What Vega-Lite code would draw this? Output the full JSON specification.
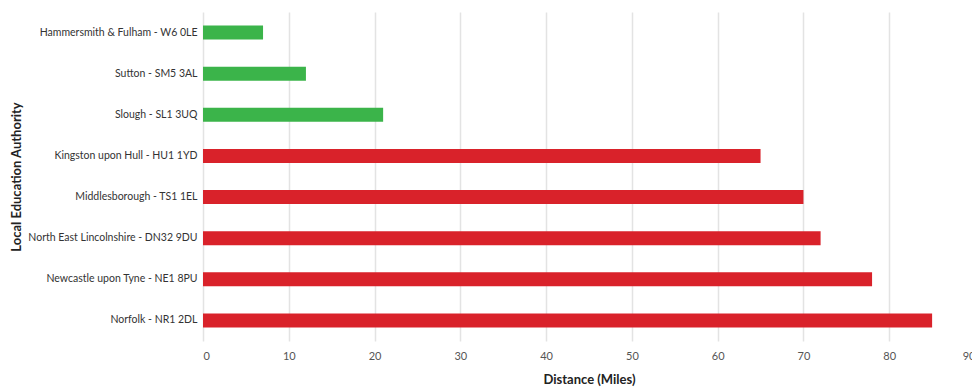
{
  "$schema": "https://vega.github.io/schema/vega-lite/v6.json",
  "autosize": {"type": "none"},
  "padding": {"left": 203, "top": 12, "right": 0, "bottom": 48},
  "width": 772,
  "height": 329,
  "background": "white",
  "config": {
    "view": {"stroke": null},
    "font": "Lato"
  },
  "data": {
    "values": [
      {"authority": "Hammersmith & Fulham - W6 0LE", "miles": 7, "group": "near"},
      {"authority": "Sutton - SM5 3AL", "miles": 12, "group": "near"},
      {"authority": "Slough - SL1 3UQ", "miles": 21, "group": "near"},
      {"authority": "Kingston upon Hull - HU1 1YD", "miles": 65, "group": "far"},
      {"authority": "Middlesborough - TS1 1EL", "miles": 70, "group": "far"},
      {"authority": "North East Lincolnshire - DN32 9DU", "miles": 72, "group": "far"},
      {"authority": "Newcastle upon Tyne - NE1 8PU", "miles": 78, "group": "far"},
      {"authority": "Norfolk - NR1 2DL", "miles": 85, "group": "far"}
    ]
  },
  "mark": {"type": "bar"},
  "encoding": {
    "y": {
      "field": "authority",
      "type": "nominal",
      "sort": null,
      "scale": {"paddingInner": 0.66, "paddingOuter": 0.33},
      "axis": {
        "title": "Local Education Authority",
        "titleFont": "Lato",
        "titleFontSize": 13,
        "titleFontWeight": "bold",
        "titleColor": "#222",
        "titleX": -180,
        "labelFontSize": 10.5,
        "labelColor": "#333",
        "labelPadding": 6,
        "ticks": false,
        "domain": false,
        "labelLimit": 250
      }
    },
    "x": {
      "field": "miles",
      "type": "quantitative",
      "scale": {"domain": [0, 90], "nice": false},
      "axis": {
        "title": "Distance (Miles)",
        "titleFontSize": 13,
        "titleFontWeight": "bold",
        "titleColor": "#222",
        "titlePadding": 12,
        "values": [0, 10, 20, 30, 40, 50, 60, 70, 80, 90],
        "labelFontSize": 11,
        "labelColor": "#555",
        "labelPadding": 9,
        "ticks": false,
        "domain": false,
        "grid": true,
        "gridColor": "#e3e3e3",
        "gridWidth": 1.5
      }
    },
    "color": {
      "field": "group",
      "type": "nominal",
      "scale": {"domain": ["near", "far"], "range": ["#3bb44a", "#d9222a"]},
      "legend": null
    }
  }
}
